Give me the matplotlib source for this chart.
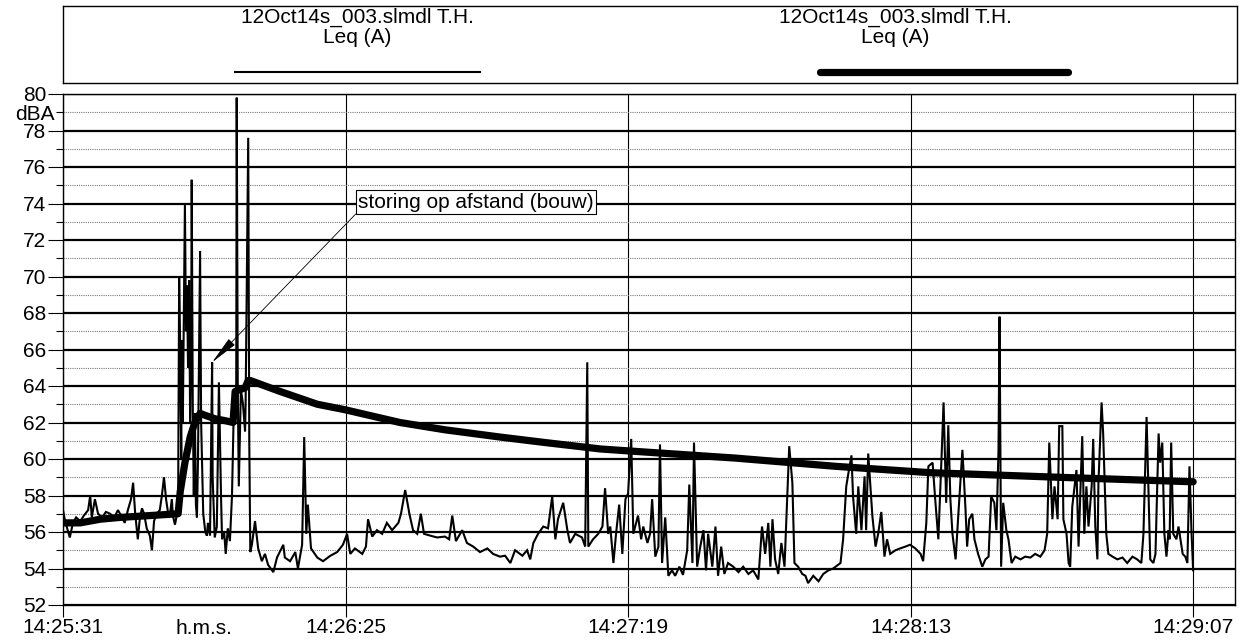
import matplotlib
matplotlib.use('Agg')
import matplotlib.pyplot as plt

plt.rcParams['font.family'] = ['Liberation Sans', 'DejaVu Sans']

# time axis: seconds after 14:25:31
tick_secs = [0, 54, 108, 162, 216]
tick_labels = ['14:25:31', '14:26:25', '14:27:19', '14:28:13', '14:29:07']
series_name = '12Oct14s_003.slmdl T.H.'
series_param = 'Leq (A)'
note_text = 'storing op afstand (bouw)'

# short Leq, dB(A)
t_short = [0.0, 0.4, 1.0, 1.3, 1.9, 2.5, 3.3, 4.0, 4.8, 5.2, 5.5, 6.1, 6.7, 7.5, 8.2, 9.0,
           9.8, 10.5, 11.1, 11.8, 12.4, 13.0, 13.4, 13.8, 14.3, 14.7, 15.1, 15.5, 16.0, 16.6,
           17.0, 17.4, 17.9, 18.5, 18.9, 19.3, 19.7, 20.1, 20.5, 20.8, 21.0, 21.4, 21.8, 22.0,
           22.2, 22.4, 22.6, 22.7, 22.9, 23.3, 23.5, 23.7, 23.9, 24.1, 24.3, 24.5, 24.6, 24.8,
           25.0, 25.2, 25.4, 25.6, 25.8, 26.2, 26.4, 26.8, 27.2, 27.5, 27.7, 28.1, 28.5, 28.6,
           29.0, 29.4, 29.8, 30.2, 30.4, 30.8, 31.1, 31.5, 31.9, 32.3, 32.7, 33.1, 33.2, 33.4,
           33.6, 34.0, 34.4, 34.8, 34.9, 35.4, 35.6, 35.8, 36.1, 36.7, 37.3, 38.0, 38.6, 39.2,
           40.2, 40.9, 42.1, 42.4, 43.4, 44.4, 44.9, 45.7, 46.1, 46.5, 46.8, 47.4, 48.6, 49.7,
           51.1, 52.4, 53.5, 54.3, 54.9, 55.8, 57.2, 57.9, 58.3, 59.1, 60.0, 61.0, 61.9, 62.9,
           64.1, 64.6, 65.4, 66.2, 66.9, 67.7, 68.4, 69.0, 70.2, 71.5, 73.0, 73.8, 74.4, 75.1,
           76.3, 77.2, 78.4, 79.7, 81.1, 82.2, 83.5, 84.5, 85.5, 86.4, 87.8, 88.7, 89.3, 89.9,
           90.8, 91.8, 92.7, 93.5, 94.1, 94.6, 95.6, 96.4, 96.9, 97.9, 99.2, 99.8, 100.2, 100.4,
           101.3, 102.3, 103.1, 103.6, 104.2, 104.6, 105.2, 105.7, 106.3, 106.9, 107.5, 108.0,
           108.6, 109.0, 109.9, 110.5, 110.9, 111.7, 112.2, 112.6, 113.2, 113.8, 114.1, 114.5,
           115.1, 115.7, 116.4, 117.0, 117.8, 118.5, 119.3, 119.7, 120.3, 120.6, 121.2, 121.8,
           122.4, 122.9, 123.3, 124.1, 124.7, 125.2, 125.8, 126.4, 127.1, 128.1, 129.1, 130.0,
           131.0, 131.9, 132.9, 133.6, 134.2, 134.8, 135.2, 135.6, 136.1, 136.7, 137.3, 137.9,
           138.4, 138.8, 139.4, 139.8, 140.5, 141.3, 141.9, 142.4, 143.4, 144.4, 145.3, 146.3,
           147.2, 148.6, 149.1, 149.7, 150.1, 150.7, 151.0, 151.6, 152.0, 152.6, 153.2, 153.5,
           153.9, 154.7, 155.3, 155.8, 156.4, 157.0, 157.5, 158.1, 159.1, 160.0, 161.0, 161.9,
           162.9, 163.9, 164.4, 165.0, 165.4, 166.2, 166.7, 167.3, 167.9, 168.3, 168.8, 169.2,
           169.6, 170.0, 170.6, 171.1, 171.9, 172.5, 172.8, 173.2, 173.8, 174.2, 174.9, 175.7,
           176.3, 176.9, 177.4, 178.0, 178.4, 178.8, 179.0, 179.3, 179.7, 180.3, 180.7, 181.3,
           182.0, 183.0, 183.9, 184.9, 185.8, 186.8, 187.6, 188.1, 188.5, 189.1, 189.5, 190.1,
           190.4, 191.0, 191.2, 191.8, 192.2, 192.5, 192.9, 193.7, 194.1, 194.5, 194.8, 195.2,
           195.6, 196.0, 196.6, 196.9, 197.3, 197.7, 197.9, 198.5, 198.8, 199.4, 199.8, 200.6,
           201.5, 202.5, 203.4, 204.4, 205.3, 206.1, 206.5, 207.1, 207.5, 207.8, 208.4, 208.8,
           209.4, 209.7, 210.1, 210.5, 210.9, 211.3, 211.5, 211.8, 212.2, 212.8, 213.2, 214.0,
           214.5, 214.9, 215.3, 215.7, 216.0]
leq_short = [57.2, 56.6, 56.0, 55.7, 56.5, 56.8, 56.6, 56.9, 57.2, 58.0, 56.8, 57.8, 57.0, 56.8, 57.1, 57.0,
             56.8, 57.2, 56.9, 56.5, 57.2, 57.8, 58.7, 57.0, 55.6, 56.8, 57.3, 57.0, 56.2, 55.8,
             55.0, 56.6, 57.0, 57.2, 58.0, 59.0, 57.8, 57.0, 57.1, 57.8, 56.9, 56.4, 57.0, 57.2,
             70.0, 66.0, 60.0, 66.5, 62.0, 74.0, 67.0, 69.5, 65.0, 69.8, 62.0, 66.0, 75.3, 63.0,
             58.0, 62.5, 57.5, 56.8, 60.0, 71.4, 62.0, 57.0, 56.0, 55.8, 56.5, 55.8, 65.3, 59.0,
             55.7, 56.3, 64.2, 58.0, 55.6, 56.0, 54.8, 56.2, 55.5, 58.0, 63.5, 62.5, 79.8, 64.0,
             58.5, 63.8, 63.0, 61.5, 63.0, 77.6, 61.0, 54.9, 55.3, 56.6, 55.1, 54.4, 54.8, 54.2,
             53.8, 54.6, 55.3, 54.6, 54.4, 54.9, 54.0, 55.3, 61.2, 55.9, 57.5, 55.1, 54.6, 54.4,
             54.7, 54.9, 55.3, 55.9, 54.8, 55.1, 54.8, 55.2, 56.7, 55.75, 56.1, 55.9, 56.5, 56.1,
             56.5, 57.0, 58.3, 57.0, 56.1, 55.9, 57.0, 55.9, 55.8, 55.7, 55.75, 55.6, 56.9, 55.5,
             56.1, 55.4, 55.2, 54.9, 55.1, 54.8, 54.65, 54.7, 54.3, 55.0, 54.7, 55.0, 54.5, 55.4,
             55.9, 56.3, 56.2, 57.95, 55.6, 56.7, 57.6, 56.1, 55.4, 55.9, 55.7, 55.2, 65.3, 55.2,
             55.6, 55.9, 56.3, 58.4, 55.9, 56.3, 54.3, 55.9, 57.5, 54.8, 57.8, 58.1,
             61.1, 55.9, 56.9, 55.6, 56.3, 55.4, 55.9, 57.8, 54.65, 55.2, 60.8, 54.3,
             56.8, 53.6, 53.9, 53.6, 54.1, 53.65, 55.0, 58.6, 54.3, 60.9, 54.1, 55.2,
             56.1, 53.9, 55.9, 54.1, 56.3, 53.6, 55.2, 53.7, 54.3, 54.1, 53.8, 54.1,
             53.7, 53.9, 53.4, 56.3, 54.8, 56.5, 54.1, 56.7, 54.5, 53.7, 55.4, 54.1,
             57.8, 60.7, 58.7, 54.3, 54.1, 53.7, 53.6, 53.2, 53.6, 53.3, 53.7, 53.9,
             54.0, 54.3, 55.6, 58.5, 59.2, 60.2, 57.95, 55.9, 58.5, 56.1, 59.05, 56.1,
             60.3, 56.85, 55.2, 55.9, 57.1, 54.65, 55.6, 54.8, 55.0, 55.1, 55.2, 55.3,
             55.1, 54.8, 54.4, 56.5, 59.6, 59.8, 57.8, 55.6, 60.0, 63.1, 57.6, 61.85,
             57.8, 55.9, 54.5, 56.85, 60.5, 57.2, 55.2, 56.7, 57.0, 55.6, 54.8, 54.1,
             54.5, 54.65, 57.95, 57.6, 56.1, 60.5, 67.8, 54.1, 57.6, 56.1, 55.6, 54.3,
             54.65, 54.5, 54.65, 54.6, 54.8, 54.65, 55.0, 55.9, 60.9, 56.7, 58.5, 56.7,
             61.8, 61.8, 56.7, 55.9, 54.3, 54.1, 57.4, 59.4, 55.2, 58.7, 61.25, 55.9,
             58.5, 56.3, 58.5, 61.1, 56.3, 54.5, 58.7, 63.1, 61.4, 55.9, 54.8, 54.65,
             54.5, 54.6, 54.3, 54.65, 54.5, 54.3, 55.9, 62.3, 57.8, 54.5, 54.3, 54.8,
             61.4, 59.8, 60.9, 55.9, 54.65, 56.1, 55.6, 60.9, 55.9, 55.6, 56.3, 54.8,
             54.65, 54.3, 59.6, 55.9, 53.9]

# running Leq, dB(A)
t_run = [0.0, 3.3, 7.1, 10.9, 16.6, 22.0, 22.4, 23.3, 24.3, 25.2, 26.2, 27.1, 29.1, 31.0,
         32.5, 32.9, 33.8, 34.8, 35.4, 35.8, 41.5, 48.6, 53.9, 64.4, 73.0, 83.6, 92.2,
         102.7, 110.3, 128.5, 147.6, 165.8, 190.2, 216.0]
leq_run = [56.5, 56.5, 56.7, 56.8, 56.9, 57.0, 58.2, 59.8, 61.2, 62.0, 62.5, 62.4, 62.2, 62.1,
           62.0, 63.7, 63.8, 63.9, 64.3, 64.3, 63.7, 63.0, 62.7, 62.0, 61.6, 61.2, 60.9,
           60.55, 60.4, 60.05, 59.6, 59.25, 59.0, 58.75]

# spike the remark points at
note_index = 70

W, H = 1244, 643
fig = plt.figure(figsize=(W / 100, H / 100), dpi=100)
ax = fig.add_axes([63 / W, 1 - 605 / H, (1235 - 63) / W, (605 - 94) / H])

ax.plot(t_run, leq_run, color='black', lw=5.2, solid_capstyle='round', zorder=3)
ax.plot(t_short, leq_short, color='black', lw=1.5, solid_joinstyle='miter', zorder=4)

ax.set_xlim(0, 224)
ax.set_ylim(52, 80)

# axis ticks and labels
ax.set_xticks(tick_secs, tick_labels)
major_y = list(range(52, 81, 2))
minor_y = list(range(53, 80, 2))
ax.set_yticks(major_y, [str(v) for v in major_y])
ax.set_yticks(minor_y, ['dBA' if v == 79 else '' for v in minor_y], minor=True)
ax.tick_params(axis='y', which='major', length=11, width=0.8, pad=1, labelsize=15)
ax.tick_params(axis='y', which='minor', length=5, width=0.8, pad=1, labelsize=15)
ax.tick_params(axis='x', which='major', length=8.5, width=0.8, pad=1, labelsize=15)
ax.tick_params(axis='x', which='minor', bottom=False)

# grid
ax.grid(axis='y', which='major', color='black', lw=1.6)
ax.grid(axis='y', which='minor', color='#7a7a7a', lw=0.8, ls=(0, (1, 1)))
ax.grid(axis='x', which='major', color='black', lw=0.8)
ax.set_axisbelow(True)
for s in ax.spines.values():
    s.set_linewidth(1.0)

ax.text(26.9, -0.028, 'h.m.s.', transform=ax.get_xaxis_transform(),
        ha='center', va='top', fontsize=15)

# remark with arrow
ax.annotate(note_text, xy=(t_short[note_index], leq_short[note_index]), xytext=(56.4, 74.08),
            ha='left', va='center', fontsize=15, zorder=6,
            bbox=dict(boxstyle='square,pad=0.1', fc='white', ec='black', lw=0.8),
            arrowprops=dict(arrowstyle='-|>,head_length=1.2,head_width=0.18', color='black',
                            lw=0.6, relpos=(0, 0), shrinkA=0, shrinkB=0))

# legend box
lax = fig.add_axes([63 / W, 1 - 83 / H, (1237 - 63) / W, 77 / H])
lax.set_xlim(0, 1)
lax.set_ylim(0, 1)
lax.set_xticks([])
lax.set_yticks([])
for s in lax.spines.values():
    s.set_linewidth(1.0)
for xc in [0.2504, 0.7087]:
    lax.text(xc, 0.857, series_name, ha='center', va='center', fontsize=15)
    lax.text(xc, 0.597, series_param, ha='center', va='center', fontsize=15)
lax.plot([0.1465, 0.355], [0.143, 0.143], color='black', lw=1.5)
lax.plot([0.645, 0.856], [0.143, 0.143], color='black', lw=5.2, solid_capstyle='round')

fig.savefig('out.png', dpi=100)
